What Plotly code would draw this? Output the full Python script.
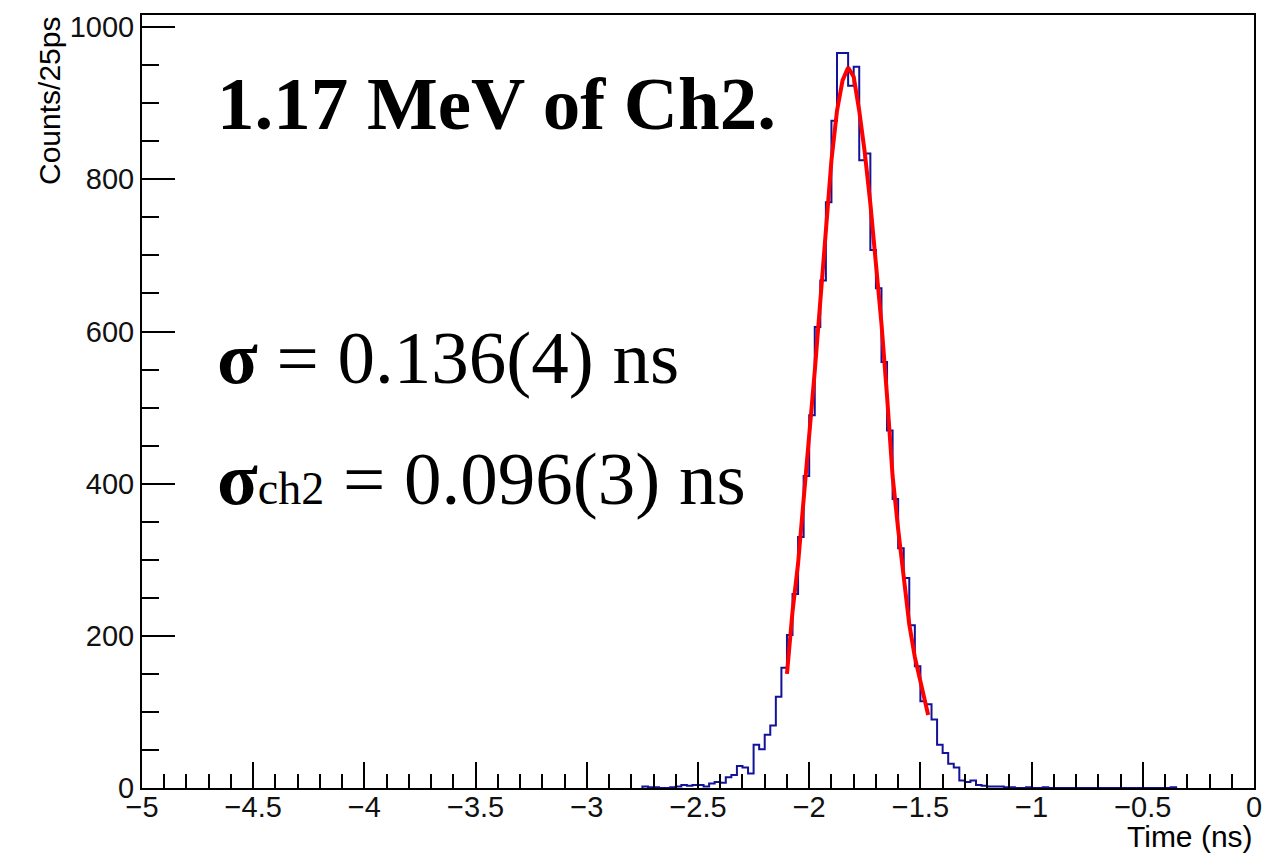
import numpy as np
import plotly.graph_objects as go

# ---------------- data ----------------
first_bin_edge = -2.75      # ns, lower edge of first listed bin
bin_width = 0.025           # ns (25 ps)
counts = [
    2, 1, 1, 0, 0, 1, 2, 4, 3, 4,            # -2.750 ... -2.525
    4, 2, 6, 8, 7, 14, 17, 29, 27, 19,       # -2.500 ... -2.275
    57, 51, 70, 82, 120, 158, 201, 255, 330, 410,   # -2.250 ... -2.025
    490, 606, 667, 770, 877, 966, 966, 923, 948, 825,  # -2.000 ... -1.775
    834, 707, 657, 560, 470, 380, 315, 276, 214, 160,  # -1.750 ... -1.525
    114, 110, 90, 57, 46, 32, 27, 10, 8, 10,  # -1.500 ... -1.275
    4, 3, 2, 2, 2, 1, 1, 0, 0, 1,             # -1.250 ... -1.025
    0, 0, 1, 0, 0, 0, 0, 0, 0, 0,             # -1.000 ... -0.775
    0, 0, 0, 0, 0, 0, 0, 0, 0, 0,             # -0.750 ... -0.525
    0, 0, 0, 0, 0, 1,                         # -0.500 ... -0.375
]

fit_t = [-2.100, -2.090, -2.075, -2.050, -2.025, -2.000, -1.975, -1.950,
         -1.925, -1.900, -1.875, -1.850, -1.825, -1.800, -1.775, -1.750,
         -1.725, -1.700, -1.675, -1.650, -1.625, -1.600, -1.575, -1.550,
         -1.525, -1.500, -1.475, -1.465]
fit_counts = [150, 185, 232, 295, 375, 460, 548, 640,
              735, 825, 890, 930, 947, 935, 890, 835,
              768, 690, 610, 515, 410, 340, 272, 215,
              172, 138, 110, 96]

x_tick_vals = [-5, -4.5, -4, -3.5, -3, -2.5, -2, -1.5, -1, -0.5, 0]
x_tick_text = ["\u22125", "\u22124.5", "\u22124", "\u22123.5", "\u22123", "\u22122.5",
               "\u22122", "\u22121.5", "\u22121", "\u22120.5", "0"]
y_tick_vals = [0, 200, 400, 600, 800, 1000]

title_text = "<b>1.17 MeV of Ch2.</b>"
sigma_text = "<b>\u03c3</b> = 0.136(4) ns"
sigma_ch2_text = "<b>\u03c3</b><span style='font-size:46px'>ch2</span> = 0.096(3) ns"
x_title = "Time (ns)"
y_title = "Counts/25ps"

# ---------------- figure ----------------
W, H = 1265, 859
ML, MR, MT, MB = 142, 11, 15, 71
PW, PH = W - ML - MR, H - MT - MB

edges = first_bin_edge + bin_width * np.arange(len(counts) + 1)
hx = [edges[0]] + list(edges[:-1]) + [edges[-1], edges[-1]]
hy = [0] + counts + [counts[-1], 0]

fig = go.Figure()
fig.add_trace(go.Scatter(x=hx, y=hy, mode="lines", line_shape="hv",
                         line=dict(color="#12129a", width=2),
                         hoverinfo="skip", showlegend=False))
fig.add_trace(go.Scatter(x=fit_t, y=fit_counts, mode="lines",
                         line=dict(color="#ff0000", width=4),
                         hoverinfo="skip", showlegend=False))


def px(xp):
    return (xp - ML) / PW


def py(yp):
    return (MT + PH - yp) / PH


serif = "Liberation Serif, Times New Roman, serif"
sans = "Liberation Sans, Arial, Helvetica, sans-serif"

anns = [
    dict(text=title_text, x=px(215), y=py(104), xanchor="left", yanchor="middle",
         font=dict(family=serif, size=75, color="black")),
    dict(text=sigma_text, x=px(215), y=py(357), xanchor="left", yanchor="middle",
         font=dict(family=serif, size=75, color="black")),
    dict(text=sigma_ch2_text, x=px(215), y=py(478), xanchor="left", yanchor="middle",
         font=dict(family=serif, size=75, color="black")),
    dict(text=x_title, x=px(1255), y=py(836), xanchor="right", yanchor="middle",
         font=dict(family=sans, size=30, color="black")),
    dict(text=y_title, x=px(49), y=py(101), xanchor="center", yanchor="middle",
         textangle=-90, font=dict(family=sans, size=30, color="black")),
]
for a in anns:
    a.update(xref="paper", yref="paper", showarrow=False)

fig.update_layout(
    width=W, height=H, autosize=False,
    margin=dict(l=ML, r=MR, t=MT, b=MB, pad=0, autoexpand=False),
    paper_bgcolor="white", plot_bgcolor="white",
    annotations=anns,
    xaxis=dict(range=[-5, 0], showgrid=False, zeroline=False, automargin=False,
               showline=True, linecolor="black", linewidth=2, mirror=True,
               ticks="inside", ticklen=26, tickwidth=2, tickcolor="black",
               tickvals=x_tick_vals, ticktext=x_tick_text, ticklabelstandoff=-8,
               tickfont=dict(family=sans, size=29, color="#111111"),
               minor=dict(ticks="inside", dtick=0.1, tick0=-5, ticklen=14,
                          tickwidth=2, tickcolor="black", showgrid=False)),
    yaxis=dict(range=[0, 1016], showgrid=False, zeroline=False, automargin=False,
               showline=True, linecolor="black", linewidth=2, mirror=True,
               ticks="inside", ticklen=33, tickwidth=2, tickcolor="black",
               tickvals=y_tick_vals,
               tickfont=dict(family=sans, size=29, color="#111111"),
               minor=dict(ticks="inside", dtick=50, tick0=0, ticklen=17,
                          tickwidth=2, tickcolor="black", showgrid=False)),
)

fig.write_html("out.html")
